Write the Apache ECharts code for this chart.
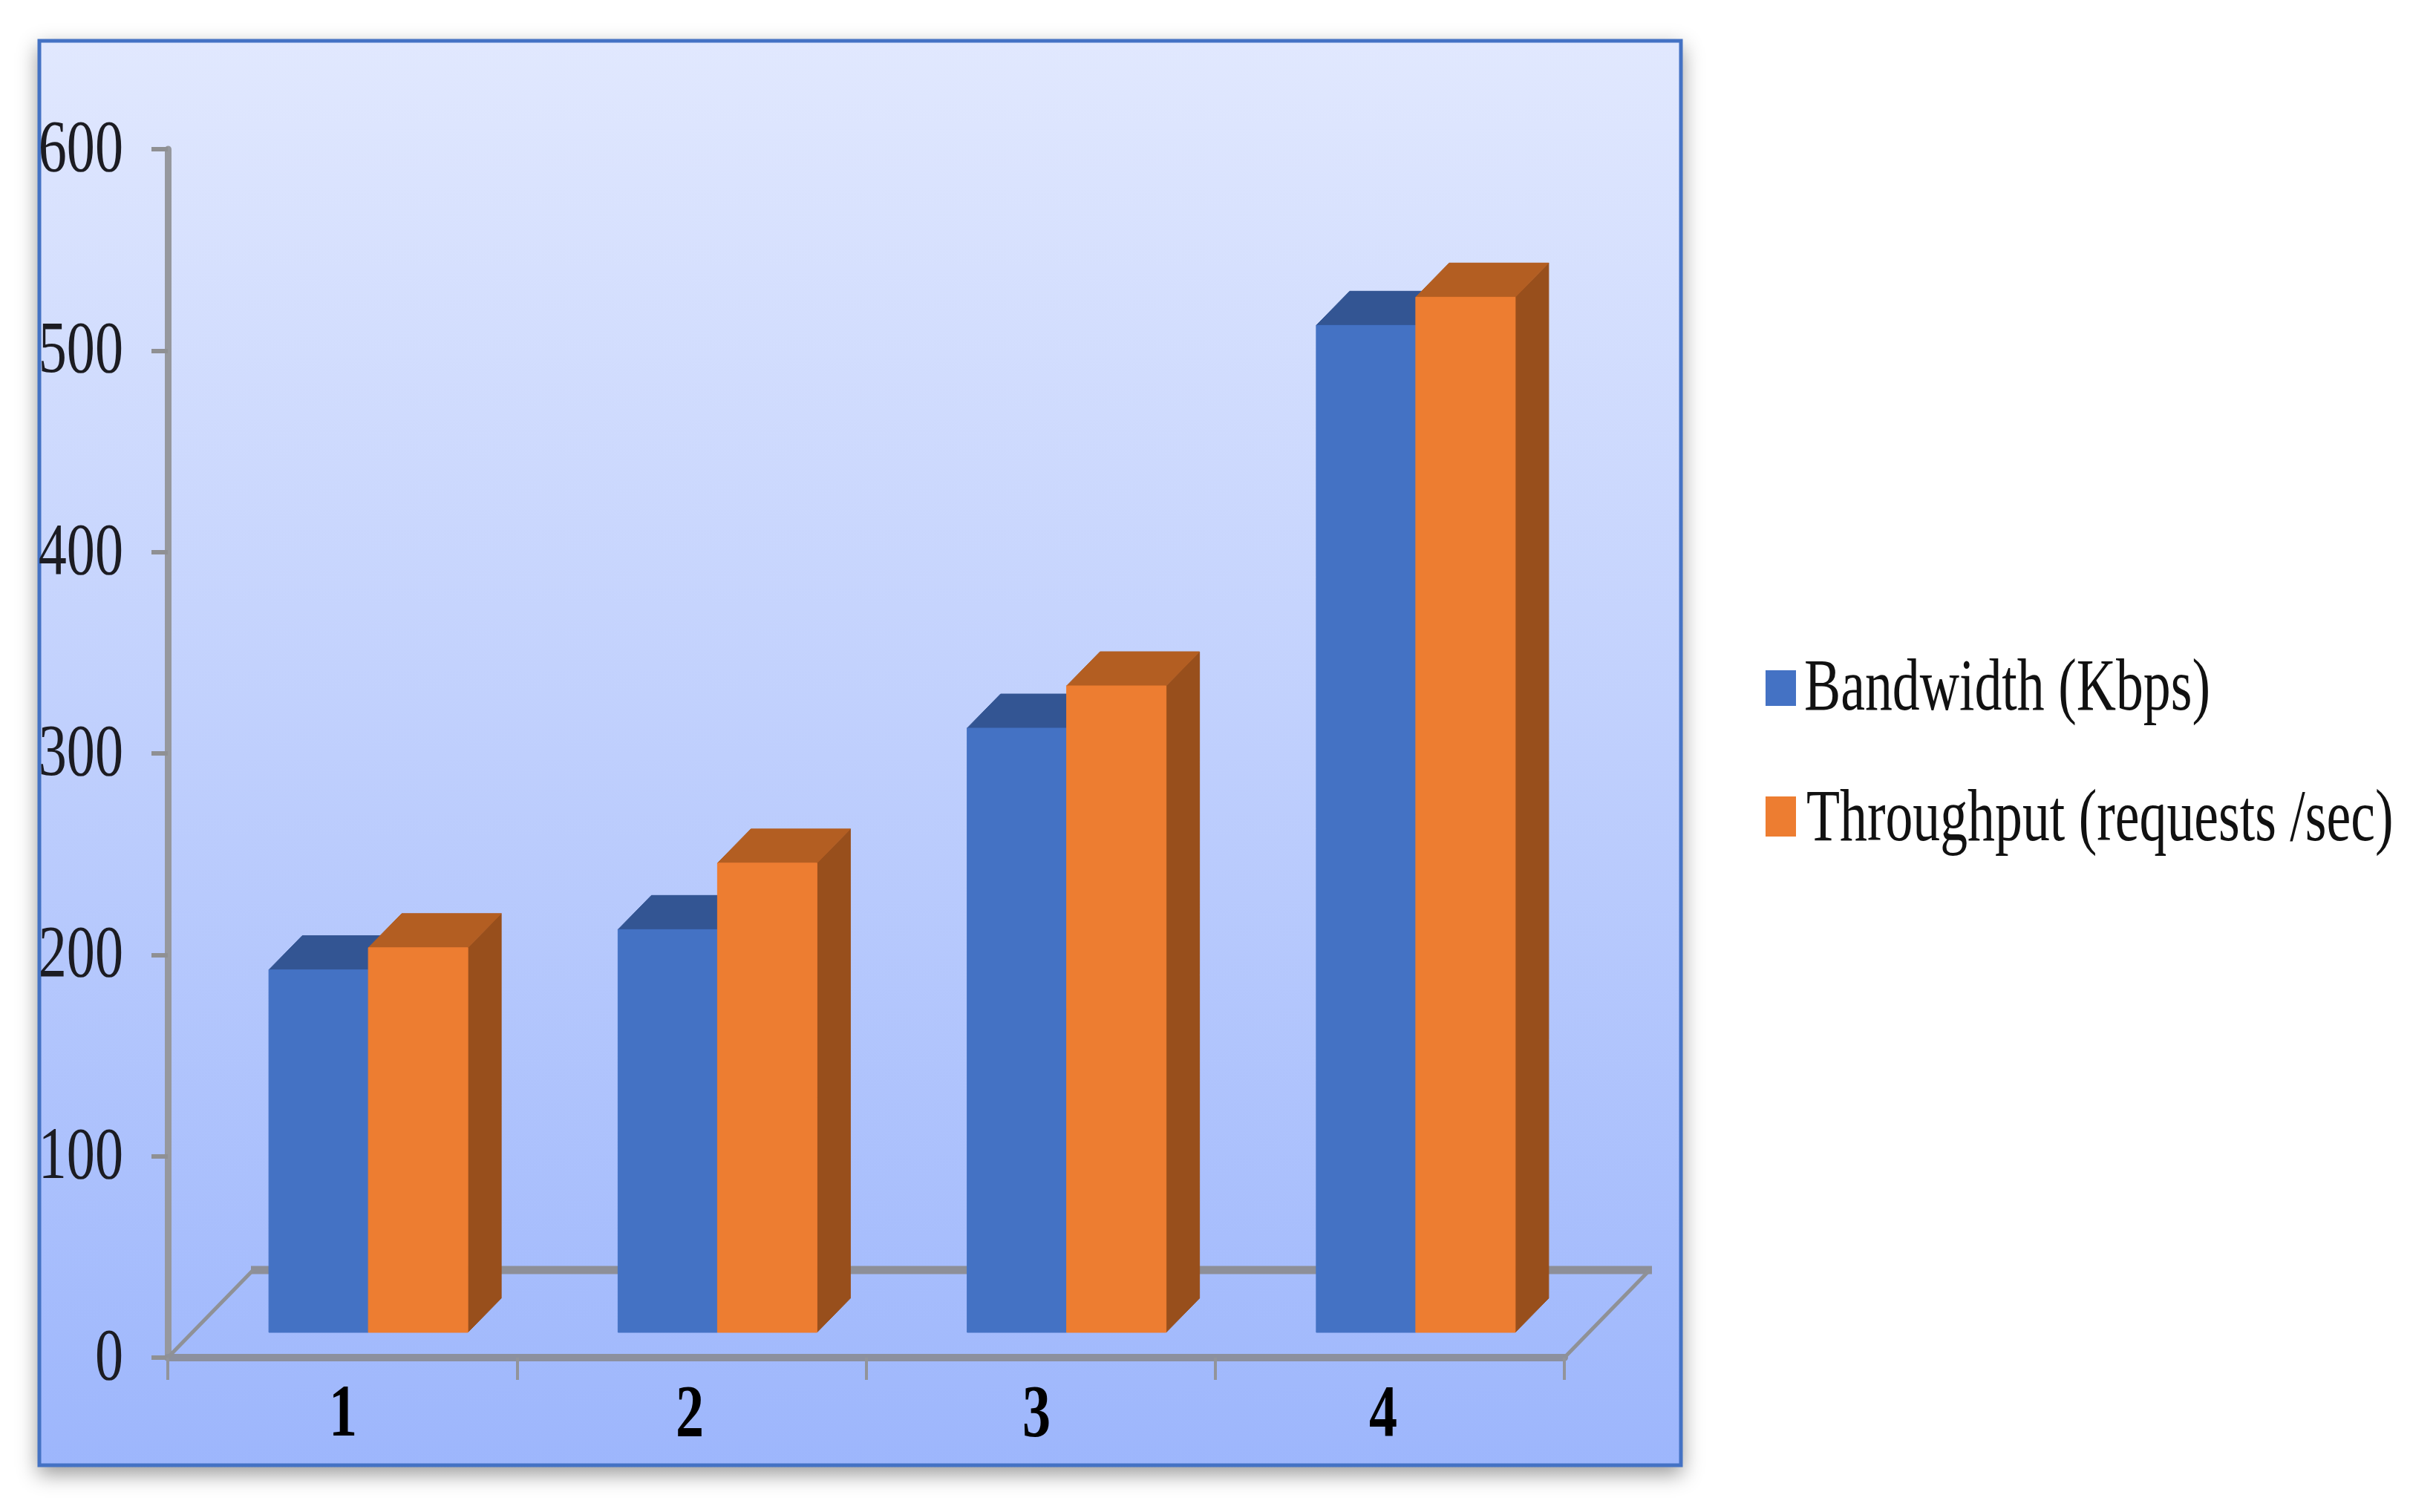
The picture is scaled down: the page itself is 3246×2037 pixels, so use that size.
<!DOCTYPE html>
<html>
<head>
<meta charset="utf-8">
<title>Bandwidth and throughput</title>
<script src="https://cdn.jsdelivr.net/npm/echarts@6/dist/echarts.min.js"></script>
<style>
  html, body { margin: 0; padding: 0; background: #fff; }
  #chart { width: 3246px; height: 2037px; }
</style>
</head>
<body>
<div id="chart"></div>
<script>
  const categories = ['1', '2', '3', '4']
  const bandwidth = [180, 200, 300, 500]
  const throughput = [191, 233, 321, 514]
  const yTicks = [0, 100, 200, 300, 400, 500, 600]
  const seriesNames = ['Bandwidth (Kbps)', 'Throughput (requests /sec)']

  const serif = '"Liberation Serif", "Times New Roman", serif'
  const narrow = 0.77 // the source picture is squeezed sideways

  // 3D look
  const depthX = 45
  const depthY = 46
  const baseLift = 34
  const barW = 134
  const floorX = 115
  const floorY = 118

  const chart = echarts.init(document.getElementById('chart'))

  // 画一根伪 3D 柱子
  const barRenderer = (front, top, side, shift) => (params, api) => {
    const p = api.coord([api.value(0), api.value(1)])
    const zero = api.coord([api.value(0), 0])
    const x = p[0] + shift
    const y = p[1] - baseLift
    const by = zero[1] - baseLift
    const poly = (points, fill) => ({
      type: 'polygon',
      shape: { points },
      style: { fill, stroke: fill, lineWidth: 1 }
    })
    return {
      type: 'group',
      children: [
        poly([[x + barW, y], [x + barW + depthX, y - depthY], [x + barW + depthX, by - depthY], [x + barW, by]], side),
        poly([[x, y], [x + depthX, y - depthY], [x + barW + depthX, y - depthY], [x + barW, y]], top),
        poly([[x, y], [x + barW, y], [x + barW, by], [x, by]], front)
      ]
    }
  }

  const renderFloor = (params, api) => {
    const band = api.size([1, 0])[0]
    const o = api.coord([0, 0])
    const x0 = o[0] - band / 2
    const x1 = x0 + band * categories.length
    const y0 = o[1]
    const line = (a, b, c, d, width, stroke) => ({
      type: 'line',
      shape: { x1: a, y1: b, x2: c, y2: d },
      style: { stroke, lineWidth: width }
    })
    return {
      type: 'group',
      children: [
        line(x0 + floorX - 3, y0 - floorY, x1 + floorX + 3, y0 - floorY, 11, '#8d8f98'),
        line(x0, y0, x0 + floorX, y0 - floorY, 5, '#8f9196'),
        line(x1, y0, x1 + floorX, y0 - floorY, 5, '#8f9196')
      ]
    }
  }

  const renderYLabel = (params, api) => {
    const p = api.coord([0, api.value(1)])
    return {
      type: 'text',
      x: p[0] - api.size([1, 0])[0] / 2 - 60,
      y: p[1] + 3,
      scaleX: narrow,
      style: {
        text: String(api.value(1)),
        align: 'right',
        verticalAlign: 'middle',
        font: '99px ' + serif,
        fill: '#1c1c22'
      }
    }
  }

  const renderXLabel = (params, api) => {
    const p = api.coord([api.value(0), 0])
    return {
      type: 'text',
      x: p[0] + 1 - params.dataIndex * 3.3,
      y: p[1] + 79,
      scaleX: narrow,
      style: {
        text: categories[params.dataIndex],
        align: 'center',
        verticalAlign: 'middle',
        font: 'bold 99px ' + serif,
        fill: '#000'
      }
    }
  }

  const legendItem = (name, color, boxY, boxH, textX, textY) => [
    {
      type: 'rect',
      shape: { x: 2378, y: boxY, width: 41, height: boxH },
      style: { fill: color }
    },
    {
      type: 'text',
      x: textX,
      y: textY,
      scaleX: 0.745,
      style: {
        text: name,
        align: 'left',
        verticalAlign: 'top',
        font: '99px ' + serif,
        fill: '#111'
      }
    }
  ]

  chart.setOption({
    animation: false,
    backgroundColor: '#fff',
    grid: { left: 226, top: 201, width: 1881, height: 1628 },
    xAxis: {
      type: 'category',
      data: categories,
      offset: 3,
      axisLine: { lineStyle: { color: '#8c909e', width: 10 } },
      axisTick: { show: true, length: 30, lineStyle: { color: '#92949a', width: 4 } },
      axisLabel: { show: false },
      splitLine: { show: false }
    },
    yAxis: {
      type: 'value',
      min: 0,
      max: 600,
      interval: 100,
      axisLine: { show: true, lineStyle: { color: '#96989e', width: 9 } },
      axisTick: { show: true, length: 22, lineStyle: { color: '#8f9093', width: 6 } },
      axisLabel: { show: false },
      splitLine: { show: false }
    },
    graphic: {
      elements: [
        // panel fill with its shadow, then the border on top
        {
          type: 'rect',
          z: -10,
          shape: { x: 51, y: 53, width: 2215, height: 1923 },
          style: {
            fill: new echarts.graphic.LinearGradient(0, 0, 0, 1, [
              { offset: 0, color: '#e1e8fe' },
              { offset: 1, color: '#9db6fc' }
            ]),
            shadowColor: 'rgba(0, 0, 0, 0.4)',
            shadowBlur: 26,
            shadowOffsetY: 10
          }
        },
        {
          type: 'rect',
          z: -9,
          shape: { x: 53, y: 55, width: 2211, height: 1919 },
          style: { fill: 'none', stroke: '#4472c4', lineWidth: 5 }
        },
        ...legendItem(seriesNames[0], '#4472c4', 903, 48, 2430, 880),
        ...legendItem(seriesNames[1], '#ed7d31', 1073, 54, 2433, 1056)
      ]
    },
    series: [
      {
        type: 'custom',
        silent: true,
        z: 1,
        data: [[0, 0]],
        encode: { x: 0, y: 1 },
        renderItem: renderFloor
      },
      {
        name: seriesNames[0],
        type: 'custom',
        z: 3,
        data: bandwidth.map((v, i) => [i, v]),
        encode: { x: 0, y: 1 },
        renderItem: barRenderer('#4472c4', '#335593', '#2b4a82', -99)
      },
      {
        name: seriesNames[1],
        type: 'custom',
        z: 4,
        data: throughput.map((v, i) => [i, v]),
        encode: { x: 0, y: 1 },
        renderItem: barRenderer('#ed7d31', '#b35e22', '#984f1c', 35)
      },
      {
        type: 'custom',
        silent: true,
        z: 5,
        data: yTicks.map((v) => [0, v]),
        encode: { x: 0, y: 1 },
        renderItem: renderYLabel
      },
      {
        type: 'custom',
        silent: true,
        z: 5,
        data: categories.map((c, i) => [i, 0]),
        encode: { x: 0, y: 1 },
        renderItem: renderXLabel
      }
    ]
  })
</script>
</body>
</html>
